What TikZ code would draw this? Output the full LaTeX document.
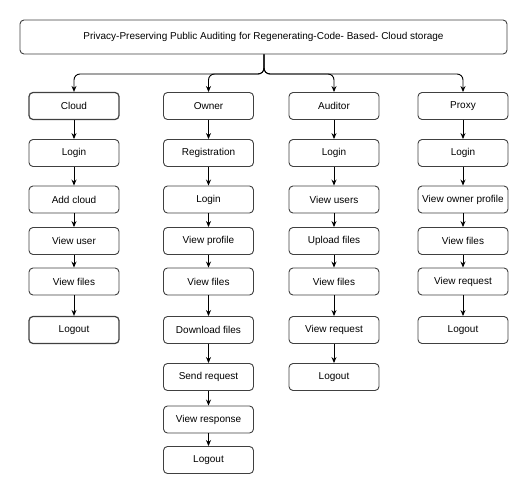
\documentclass[tikz,border=0pt]{standalone}
\usepackage{fontspec}
\setmainfont{Liberation Sans}
\usetikzlibrary{arrows.meta}
\begin{document}
\begin{tikzpicture}[x=1pt,y=-1pt,
  box/.style={draw=black!75, line width=0.9pt, rounded corners=4pt, minimum width=90pt, minimum height=27pt, inner sep=1pt, font=\fontsize{10}{12}\selectfont, fill=white},
  arr/.style={-{Stealth[length=6pt,width=5pt]}, line width=0.9pt, black},
  branch/.style={arr, rounded corners=6pt}]
\useasboundingbox (0,0) rectangle (527,489);
\node[box, minimum width=487pt, minimum height=34pt] (title) at (263.5,37) {Privacy-Preserving Public Auditing for Regenerating-Code- Based- Cloud storage};
% column heads
\node[box, line width=1.2pt] (cloud) at (74,106) {Cloud};
\node[box] (owner) at (208.5,106) {Owner};
\node[box] (auditor) at (334,106) {Auditor};
\node[box] (proxy) at (463,106) {Proxy};
% Cloud column
\node[box] (c1) at (74,153) {Login};
\node[box] (c2) at (74,199.5) {Add cloud};
\node[box] (c3) at (74,241) {View user};
\node[box] (c4) at (74,281.5) {View files};
\node[box, line width=1.2pt] (c5) at (74,330) {Logout};
% Owner column
\node[box] (o1) at (208.5,153) {Registration};
\node[box] (o2) at (208.5,199.5) {Login};
\node[box] (o3) at (208.5,241) {View profile};
\node[box] (o4) at (208.5,281.5) {View files};
\node[box] (o5) at (208.5,330) {Download files};
\node[box] (o6) at (208.5,377) {Send request};
\node[box] (o7) at (208.5,419.5) {View response};
\node[box] (o8) at (208.5,460) {Logout};
% Auditor column
\node[box] (a1) at (334,153) {Login};
\node[box] (a2) at (334,199.5) {View users};
\node[box] (a3) at (334,241) {Upload files};
\node[box] (a4) at (334,281.5) {View files};
\node[box] (a5) at (334,330) {View request};
\node[box] (a6) at (334,377) {Logout};
% Proxy column
\node[box] (p1) at (463,153) {Login};
\node[box] (p2) at (463,199.5) {View owner profile};
\node[box] (p3) at (463,241) {View files};
\node[box] (p4) at (463,281.5) {View request};
\node[box] (p5) at (463,330) {Logout};
% branches
\coordinate (split) at (264,74);
\foreach \n in {cloud,owner,auditor,proxy}
  \draw[branch] (title.south -| split) -- (split) -| (\n.north);
% chains
\foreach \a/\b in {cloud/c1,c1/c2,c2/c3,c3/c4,c4/c5,
                   owner/o1,o1/o2,o2/o3,o3/o4,o4/o5,o5/o6,o6/o7,o7/o8,
                   auditor/a1,a1/a2,a2/a3,a3/a4,a4/a5,a5/a6,
                   proxy/p1,p1/p2,p2/p3,p3/p4,p4/p5}
  \draw[arr] (\a.south) -- (\b.north);
\end{tikzpicture}
\end{document}
